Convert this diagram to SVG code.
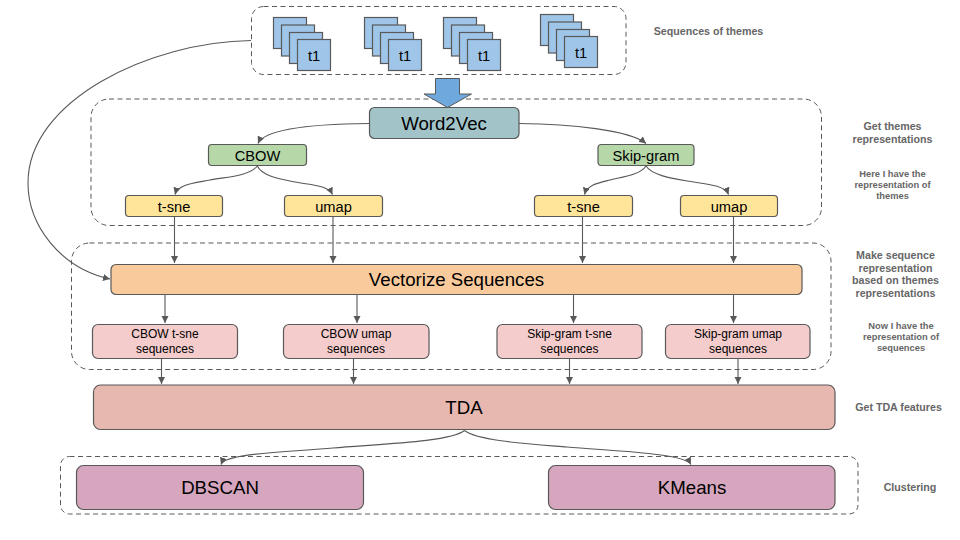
<svg xmlns="http://www.w3.org/2000/svg" width="960" height="540" viewBox="0 0 960 540">
<style>
text{font-family:"Liberation Sans",Arial,sans-serif;text-anchor:middle;fill:#000}
.n{stroke:#595959;stroke-width:1.2}
.d{fill:none;stroke:#595959;stroke-width:1;stroke-dasharray:5 3.5}
.c{fill:none;stroke:#595959;stroke-width:1.1;marker-end:url(#a)}
.s{fill:#9fc5e8;stroke:#595959;stroke-width:1.2}
.l{fill:#666;font-weight:bold;font-size:10.67px}
.m{fill:#666;font-weight:bold;font-size:9.33px}
.t{font-size:14.67px}
.p{font-size:12px}
.b{font-size:18.67px}
</style>
<defs>
<marker id="a" markerUnits="userSpaceOnUse" markerWidth="8" markerHeight="8" refX="7" refY="3.500" orient="auto"><path d="M0 0L7 3.500L0 7Z" fill="#595959"/></marker>
<g id="st">
<rect class="s" x="0" y="0" width="33" height="31"/>
<rect class="s" x="8" y="7.500" width="33" height="31"/>
<rect class="s" x="16" y="15" width="33" height="31"/>
<rect class="s" x="24" y="22" width="33" height="31"/>
<text x="40.500" y="43" class="t">t1</text>
</g>
</defs>
<rect width="960" height="540" fill="#fff"/>
<g id="containers">
<rect class="d" x="251.500" y="6.500" width="374.500" height="68" rx="12"/>
<rect class="d" x="91" y="99" width="730.500" height="126.500" rx="18"/>
<rect class="d" x="71.500" y="243" width="759.500" height="126.500" rx="18"/>
<rect class="d" x="60.500" y="456.500" width="797.500" height="57.500" rx="9"/>
</g>
<g id="connectors">
<path class="c" d="M251 40.500C150 42 28 100 28 183C28 225 60 268 110 279"/>
<path class="c" d="M369 123.500C320 124 265 128 258 143.500"/>
<path class="c" d="M519 123.500C570 124 630 130 646 143.500"/>
<path class="c" d="M257.300 166C250 176 225 177 210 180C195 183 178 184 175 194.500"/>
<path class="c" d="M257.300 166C262 176 280 179 295 182C310 185 328 185 332.500 194.500"/>
<path class="c" d="M646 166C640 175 622 177 610 180C598 183 587 185 584.500 194.500"/>
<path class="c" d="M646 166C652 175 670 178 687 181C705 184 725 185 728.500 194.500"/>
<path class="c" d="M174.500 217V263"/>
<path class="c" d="M333 217V263"/>
<path class="c" d="M582.500 217V263"/>
<path class="c" d="M733.500 217V263"/>
<path class="c" d="M165 293V323"/>
<path class="c" d="M357 293V323"/>
<path class="c" d="M573.500 293V323"/>
<path class="c" d="M733.500 293V323"/>
<path class="c" d="M161.500 359V384"/>
<path class="c" d="M353.500 359V384"/>
<path class="c" d="M569.500 359V384"/>
<path class="c" d="M738 359V384"/>
<path class="c" d="M464.500 430.500C450 442 380 444 333 448C290 452 225 453 221 464.500"/>
<path class="c" d="M464.500 430.500C478 441 530 444 567 447C610 451 685 453 691 464.500"/>
</g>
<g id="stack1"><use href="#st" x="273.500" y="17.500"/></g>
<g id="stack2"><use href="#st" x="364.500" y="17.500"/></g>
<g id="stack3"><use href="#st" x="443.500" y="17.500"/></g>
<g id="stack4"><use href="#st" x="540.500" y="14.500"/></g>
<g id="bigarrow"><path d="M435.500 78.500H459.500V94H471.500L447.500 107.500L424 94H435.500Z" fill="#6fa8dc" stroke="#595959"/></g>
<g id="word2vec"><rect class="n" x="369.500" y="107.500" width="149.500" height="31" rx="5" fill="#a2c4c9"/><text x="444" y="129.500" class="b">Word2Vec</text></g>
<g id="cbow"><rect class="n" x="208.500" y="144.500" width="98" height="21" rx="3.500" fill="#b6d7a8"/><text x="257.500" y="160.500" class="t">CBOW</text></g>
<g id="skipgram"><rect class="n" x="598" y="144.500" width="96" height="21" rx="3.500" fill="#b6d7a8"/><text x="646" y="160.500" class="t">Skip-gram</text></g>
<g id="tsne1"><rect class="n" x="125.500" y="195.500" width="97" height="21" rx="3.500" fill="#ffe599"/><text x="174" y="211.500" class="t">t-sne</text></g>
<g id="umap1"><rect class="n" x="284.500" y="195.500" width="98" height="21" rx="3.500" fill="#ffe599"/><text x="333.500" y="211.500" class="t">umap</text></g>
<g id="tsne2"><rect class="n" x="534.500" y="195.500" width="98" height="21" rx="3.500" fill="#ffe599"/><text x="583.500" y="211.500" class="t">t-sne</text></g>
<g id="umap2"><rect class="n" x="680.500" y="195.500" width="97" height="21" rx="3.500" fill="#ffe599"/><text x="729" y="211.500" class="t">umap</text></g>
<g id="vectorize"><rect class="n" x="111" y="264.500" width="691" height="30" rx="5" fill="#f9cb9c"/><text x="456.500" y="286" class="b">Vectorize Sequences</text></g>
<g id="seq1"><rect class="n" x="92.500" y="324.500" width="145" height="34" rx="5.500" fill="#f4cccc"/><text x="165" y="338" class="p">CBOW t-sne</text><text x="165" y="353" class="p">sequences</text></g>
<g id="seq2"><rect class="n" x="283.500" y="324.500" width="145.500" height="34" rx="5.500" fill="#f4cccc"/><text x="356" y="338" class="p">CBOW umap</text><text x="356" y="353" class="p">sequences</text></g>
<g id="seq3"><rect class="n" x="497" y="324.500" width="145" height="34" rx="5.500" fill="#f4cccc"/><text x="569.500" y="338" class="p">Skip-gram t-sne</text><text x="569.500" y="353" class="p">sequences</text></g>
<g id="seq4"><rect class="n" x="665.500" y="324.500" width="144.500" height="34" rx="5.500" fill="#f4cccc"/><text x="738" y="338" class="p">Skip-gram umap</text><text x="738" y="353" class="p">sequences</text></g>
<g id="tda"><rect class="n" x="93.500" y="385" width="741.500" height="44.500" rx="7" fill="#e6b8af"/><text x="464" y="414" class="b">TDA</text></g>
<g id="dbscan"><rect class="n" x="76.500" y="465.500" width="287" height="44" rx="7" fill="#d5a6bd"/><text x="220" y="494" class="b">DBSCAN</text></g>
<g id="kmeans"><rect class="n" x="548.500" y="465.500" width="286.500" height="44" rx="7" fill="#d5a6bd"/><text x="692" y="494" class="b">KMeans</text></g>
<g id="labels">
<text class="l" x="708.500" y="35">Sequences of themes</text>
<text class="l" x="892.500" y="130">Get themes</text><text class="l" x="892.500" y="143">representations</text>
<text class="m" x="892.500" y="176.500">Here I have the</text><text class="m" x="892.500" y="188">representation of</text><text class="m" x="892.500" y="199">themes</text>
<text class="l" x="895.500" y="259">Make sequence</text><text class="l" x="895.500" y="271.500">representation</text><text class="l" x="895.500" y="284">based on themes</text><text class="l" x="895.500" y="297">representations</text>
<text class="m" x="901" y="328.500">Now I have the</text><text class="m" x="901" y="340">representation of</text><text class="m" x="901" y="351">sequences</text>
<text class="l" x="898.500" y="411">Get TDA features</text>
<text class="l" x="910" y="491">Clustering</text>
</g>
</svg>
